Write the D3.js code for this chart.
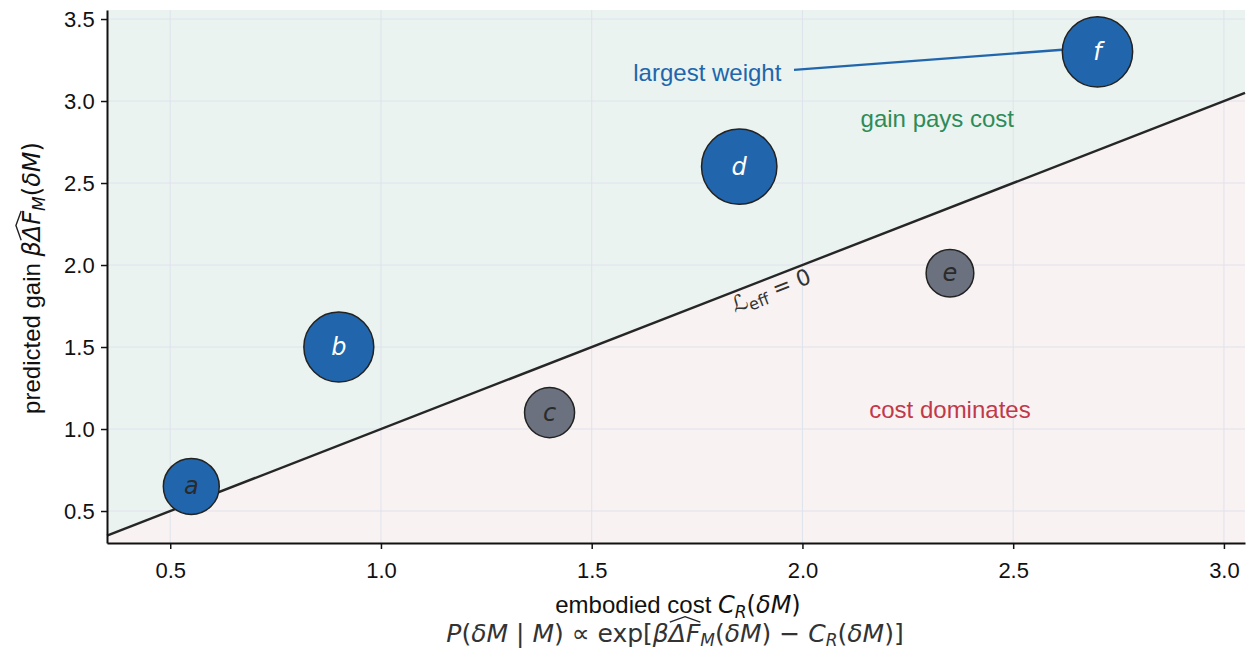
<!DOCTYPE html>
<html>
<head>
<meta charset="utf-8">
<script src="https://cdn.jsdelivr.net/npm/d3@7"></script>
<style>
  body { margin: 0; background: #fff; }
  svg { display: block; }
</style>
</head>
<body>
<div id="chart"></div>
<script>
// moves: label, embodied cost, predicted gain, weight
var labels = ["a", "b", "c", "d", "e", "f"];
var costs = [0.55, 0.9, 1.4, 1.85, 2.35, 2.7];
var gains = [0.65, 1.5, 1.1, 2.6, 1.95, 3.3];
var weights = [0.55, 0.86, 0.44, 1.0, 0.4, 0.87];
var xTicks = [0.5, 1.0, 1.5, 2.0, 2.5, 3.0];
var yTicks = [0.5, 1.0, 1.5, 2.0, 2.5, 3.0, 3.5];

var svgWidth = 1249, svgHeight = 650;
var margins = { top: 10, right: 4, bottom: 107, left: 107 };
var width = svgWidth - margins.left - margins.right;
var height = svgHeight - margins.top - margins.bottom;

var mathFont = "'DejaVu Sans', sans-serif";
var textFont = "'Liberation Sans', Arial, sans-serif";

var svg = d3.select("#chart").append("svg")
    .attr("width", svgWidth)
    .attr("height", svgHeight);

var g = svg.append("g")
    .attr("transform", "translate(" + margins.left + "," + margins.top + ")");

var x = d3.scaleLinear().domain([0.35, 3.05]).range([0, width]);
var y = d3.scaleLinear().domain([0.305, 3.555]).range([height, 0]);
var r = d3.scaleSqrt().domain([0, 1]).range([0, 37.7]);

var x0 = x.domain()[0], x1 = x.domain()[1];
var y0 = y.domain()[0], y1 = y.domain()[1];

// shaded regions either side of gain = cost
var area = d3.line().x(d => x(d[0])).y(d => y(d[1]));
g.append("path")
    .attr("d", area([[x0, x0], [x1, x1], [x1, y1], [x0, y1]]) + "Z")
    .attr("fill", "#eaf3ef");
g.append("path")
    .attr("d", area([[x0, y0], [x1, y0], [x1, x1], [x0, x0]]) + "Z")
    .attr("fill", "#f8f2f2");

// grid
g.selectAll(".gx").data(xTicks).enter().append("line")
    .attr("x1", d => x(d)).attr("x2", d => x(d))
    .attr("y1", 0).attr("y2", height)
    .attr("stroke", "#dfe3ec").attr("stroke-width", 1);
g.selectAll(".gy").data(yTicks).enter().append("line")
    .attr("x1", 0).attr("x2", width)
    .attr("y1", d => y(d)).attr("y2", d => y(d))
    .attr("stroke", "#dfe3ec").attr("stroke-width", 1);

// break-even line
g.append("path")
    .attr("d", area([[x0, x0], [x1, x1]]))
    .attr("stroke", "#262626")
    .attr("stroke-width", 2.4)
    .attr("fill", "none");

// Leff = 0 label along the line
var angle = Math.atan2(y(3) - y(1), x(3) - x(1)) * 180 / Math.PI;
var lx = x(1.915), ly = y(1.915);
var rad = angle * Math.PI / 180;
var off = 14;
var leff = g.append("text")
    .attr("transform", "translate(" + (lx - Math.sin(rad) * off) + "," + (ly + Math.cos(rad) * off) + ") rotate(" + angle + ")")
    .attr("text-anchor", "middle")
    .attr("dominant-baseline", "middle")
    .attr("font-family", mathFont)
    .attr("font-size", 22)
    .attr("fill", "#333");
leff.append("tspan").text("\u2112");
leff.append("tspan").attr("font-size", 16).attr("dy", 5).text("eff");
leff.append("tspan").attr("dy", -5).text(" = 0");

// annotation for the largest weight
var fi = labels.indexOf("f");
g.append("line")
    .attr("x1", x(1.98)).attr("y1", y(3.19))
    .attr("x2", x(costs[fi]) - r(weights[fi])).attr("y2", y(gains[fi]) - 2)
    .attr("stroke", "#2166ac")
    .attr("stroke-width", 2.4);
g.append("text")
    .attr("x", x(1.95)).attr("y", y(3.125))
    .attr("text-anchor", "end")
    .attr("font-family", textFont)
    .attr("font-size", 24)
    .attr("fill", "#2166ac")
    .text("largest weight");

g.append("text")
    .attr("x", x(2.32)).attr("y", y(2.84))
    .attr("text-anchor", "middle")
    .attr("font-family", textFont)
    .attr("font-size", 24)
    .attr("fill", "#2e8b57")
    .text("gain pays cost");
g.append("text")
    .attr("x", x(2.35)).attr("y", y(1.065))
    .attr("text-anchor", "middle")
    .attr("font-family", textFont)
    .attr("font-size", 24)
    .attr("fill", "#c0394b")
    .text("cost dominates");

// moves
var pts = labels.map((l, i) => ({ label: l, cost: costs[i], gain: gains[i], w: weights[i] }));
g.selectAll(".pt").data(pts).enter().append("circle")
    .attr("cx", d => x(d.cost))
    .attr("cy", d => y(d.gain))
    .attr("r", d => r(d.w))
    .attr("fill", d => d.gain > d.cost ? "#2166ac" : "#6b717e")
    .attr("stroke", "#222")
    .attr("stroke-width", 1.5);
g.selectAll(".lbl").data(pts).enter().append("text")
    .attr("x", d => x(d.cost))
    .attr("y", d => y(d.gain))
    .attr("text-anchor", "middle")
    .attr("dominant-baseline", "central")
    .attr("font-family", mathFont)
    .attr("font-style", "italic")
    .attr("font-size", 24)
    .attr("fill", d => (d.gain > d.cost && d.w > 0.6) ? "#fff" : "#2a2a2a")
    .text(d => d.label);

// axes
var xAxis = g.append("g")
    .attr("transform", "translate(0," + height + ")")
    .call(d3.axisBottom(x).tickValues(xTicks).tickFormat(d3.format(".1f")).tickSize(6).tickSizeOuter(0));
var yAxis = g.append("g")
    .call(d3.axisLeft(y).tickValues(yTicks).tickFormat(d3.format(".1f")).tickSize(6).tickSizeOuter(0));
[xAxis, yAxis].forEach(a => {
    a.select(".domain").attr("stroke", "#111").attr("stroke-width", 2);
    a.selectAll(".tick line").attr("stroke", "#111").attr("stroke-width", 1.5);
    a.selectAll(".tick text")
        .attr("font-family", textFont)
        .attr("font-size", 22)
        .attr("fill", "#111");
});
xAxis.selectAll(".tick text").attr("dy", "1.2em");
yAxis.selectAll(".tick text").attr("dx", "-0.15em");

// draw a wide hat over the chars of a text element (start, end indices)
function addHat(parent, textEl, i0, i1, fs) {
    var a = textEl.getExtentOfChar(i0);
    var b = textEl.getExtentOfChar(i1);
    var left = a.x + 1, right = b.x + b.width;
    var base = a.y + a.height * 0.8;   // approx baseline
    var top = base - fs * 0.8;
    parent.append("path")
        .attr("d", "M" + left + "," + top + "L" + ((left + right) / 2) + "," + (top - fs * 0.22) + "L" + right + "," + top)
        .attr("fill", "none")
        .attr("stroke", "#222")
        .attr("stroke-width", 1.4);
}

// x label, two lines
var xl = svg.append("text")
    .attr("x", 678)
    .attr("y", 613)
    .attr("text-anchor", "middle")
    .attr("font-size", 24)
    .attr("fill", "#111");
xl.append("tspan").attr("font-family", textFont).text("embodied cost ");
xl.append("tspan").attr("font-family", mathFont).attr("font-style", "italic").text("C");
xl.append("tspan").attr("font-family", mathFont).attr("font-style", "italic").attr("font-size", 17).attr("dy", 5).text("R");
xl.append("tspan").attr("font-family", mathFont).attr("dy", -5).text("(");
xl.append("tspan").attr("font-family", mathFont).attr("font-style", "italic").text("\u03b4M");
xl.append("tspan").attr("font-family", mathFont).text(")");

var eqG = svg.append("g");
var eq = eqG.append("text")
    .attr("x", 675)
    .attr("y", 642)
    .attr("text-anchor", "middle")
    .attr("font-family", mathFont)
    .attr("font-size", 25)
    .attr("fill", "#333");
function it(sel, t) { return sel.append("tspan").attr("font-style", "italic").text(t); }
function rm(sel, t) { return sel.append("tspan").text(t); }
it(eq, "P"); rm(eq, "("); it(eq, "\u03b4M"); rm(eq, " | "); it(eq, "M"); rm(eq, ") \u221d exp[");
it(eq, "\u03b2\u0394F");
eq.append("tspan").attr("font-style", "italic").attr("font-size", 17).attr("dy", 4).text("M");
eq.append("tspan").attr("dy", -4).text("(");
it(eq, "\u03b4M"); rm(eq, ") \u2212 "); it(eq, "C");
eq.append("tspan").attr("font-style", "italic").attr("font-size", 17).attr("dy", 4).text("R");
eq.append("tspan").attr("dy", -4).text("(");
it(eq, "\u03b4M"); rm(eq, ")]");
var eqStr = eq.text();
var di = eqStr.indexOf("\u0394");
addHat(eqG, eq.node(), di, di + 1, 25);

// y label, rotated
var ylG = svg.append("g")
    .attr("transform", "translate(40,278) rotate(-90)");
var yl = ylG.append("text")
    .attr("text-anchor", "middle")
    .attr("font-size", 24)
    .attr("fill", "#111");
yl.append("tspan").attr("font-family", textFont).text("predicted gain ");
yl.append("tspan").attr("font-family", mathFont).attr("font-style", "italic").text("\u03b2\u0394F");
yl.append("tspan").attr("font-family", mathFont).attr("font-style", "italic").attr("font-size", 17).attr("dy", 5).text("M");
yl.append("tspan").attr("font-family", mathFont).attr("dy", -5).text("(");
yl.append("tspan").attr("font-family", mathFont).attr("font-style", "italic").text("\u03b4M");
yl.append("tspan").attr("font-family", mathFont).text(")");
var ylStr = yl.text();
var yi = ylStr.indexOf("\u0394");
addHat(ylG, yl.node(), yi, yi + 1, 24);
</script>
</body>
</html>
